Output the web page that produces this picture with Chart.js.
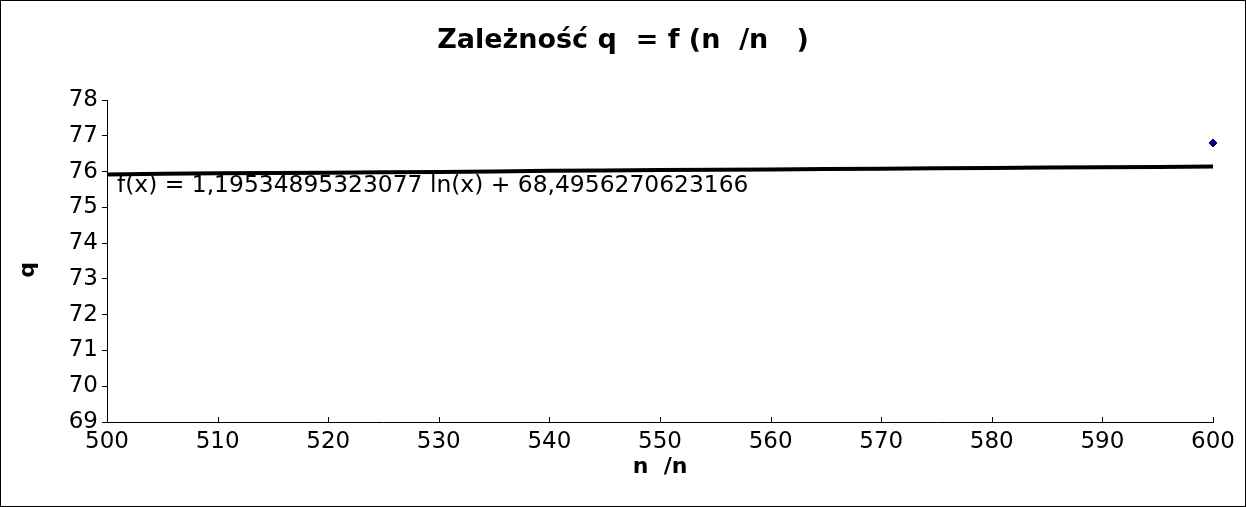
<!DOCTYPE html>
<html>
<head>
<meta charset="utf-8">
<script src="https://cdn.jsdelivr.net/npm/chart.js@4"></script>
<style>
  html, body { margin: 0; padding: 0; background: #fff; }
  #wrap { width: 1246px; height: 507px; }
</style>
</head>
<body>
<div id="wrap"><canvas id="chart" width="1246" height="507"></canvas></div>
<script>
// trend line
const trendX = [500, 510, 520, 530, 540, 550, 560, 570, 580, 590, 600];
const trendY = [75.92, 75.95, 75.97, 75.99, 76.02, 76.04, 76.06, 76.08, 76.10, 76.12, 76.14];
// measured point
const pointX = [600];
const pointY = [76.8];

const chartTitle = 'Zależność q  = f (n  /n   )';
const xTitle = 'n  /n';
const yTitle = 'q';
const trendLabel = 'f(x) = 1,19534895323077 ln(x) + 68,4956270623166';

const FONT = '"DejaVu Sans", sans-serif';

const decorations = {
    id: 'decorations',
    afterDraw(chart) {
        const ctx = chart.ctx;
        const xs = chart.scales.x;
        const area = chart.chartArea;
        ctx.save();
        // inward ticks on the x axis
        ctx.strokeStyle = '#000';
        ctx.lineWidth = 1;
        xs.ticks.forEach(t => {
            const px = Math.round(xs.getPixelForValue(t.value)) + 0.5;
            ctx.beginPath();
            ctx.moveTo(px, area.bottom);
            ctx.lineTo(px, area.bottom - 5);
            ctx.stroke();
        });
        ctx.fillStyle = '#000';
        // title
        ctx.font = 'bold 27px ' + FONT;
        ctx.textAlign = 'center';
        ctx.textBaseline = 'alphabetic';
        ctx.fillText(chartTitle, chart.width / 2, 48);
        // axis titles
        ctx.font = 'bold 22px ' + FONT;
        ctx.fillText(xTitle, (area.left + area.right) / 2, 473);
        ctx.save();
        ctx.translate(34, 270);
        ctx.rotate(-Math.PI / 2);
        ctx.fillText(yTitle, 0, 0);
        ctx.restore();
        // trend label
        ctx.font = '23.4px ' + FONT;
        ctx.textAlign = 'left';
        ctx.textBaseline = 'middle';
        ctx.fillText(trendLabel, area.left + 10, 186);
        // outer frame
        ctx.strokeStyle = '#000';
        ctx.strokeRect(0.5, 0.5, chart.width - 1, chart.height - 1);
        ctx.restore();
    }
};

new Chart(document.getElementById('chart'), {
    type: 'scatter',
    data: {
        datasets: [
            {
                type: 'line',
                data: trendX.map((x, i) => ({ x: x, y: trendY[i] })),
                borderColor: '#000',
                borderWidth: 4,
                pointRadius: 0,
                tension: 0.3,
                order: 2
            },
            {
                data: pointX.map((x, i) => ({ x: x, y: pointY[i] })),
                backgroundColor: '#000080',
                borderColor: '#000080',
                pointStyle: 'rectRot',
                pointRadius: 4,
                clip: false,
                order: 1
            }
        ]
    },
    options: {
        responsive: false,
        animation: false,
        events: [],
        layout: { padding: { top: 100, right: 33, bottom: 0, left: 0 } },
        plugins: {
            legend: { display: false },
            tooltip: { enabled: false }
        },
        scales: {
            x: {
                type: 'linear',
                min: 500,
                max: 600,
                afterFit: s => { s.height = 85; },
                border: { color: '#000', width: 1 },
                grid: { drawOnChartArea: false, drawTicks: false },
                ticks: {
                    stepSize: 10,
                    padding: 6,
                    color: '#000',
                    font: { family: FONT, size: 23 }
                }
            },
            y: {
                min: 69,
                max: 78,
                afterFit: s => { s.width = 107; },
                border: { color: '#000', width: 1 },
                grid: { drawOnChartArea: false, tickLength: 5, color: '#000' },
                ticks: {
                    stepSize: 1,
                    padding: 4,
                    color: '#000',
                    font: { family: FONT, size: 23 }
                }
            }
        }
    },
    plugins: [decorations]
});
</script>
</body>
</html>
